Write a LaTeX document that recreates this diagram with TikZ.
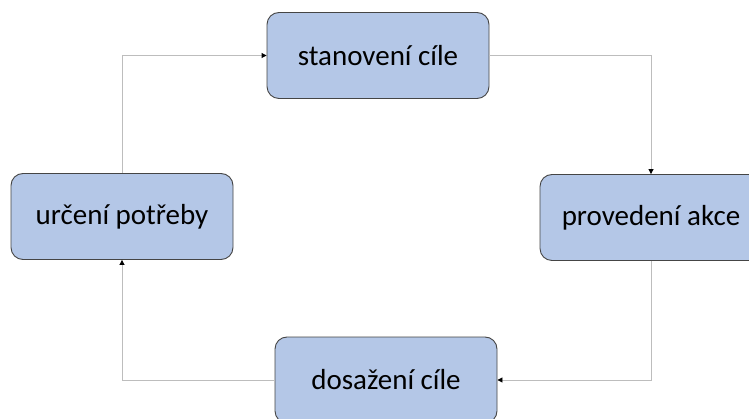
\documentclass[tikz,border=0pt]{standalone}
\usepackage{fontspec}
\setmainfont{Carlito}
\usetikzlibrary{arrows.meta}
\definecolor{boxfill}{HTML}{B4C7E7}
\definecolor{boxline}{HTML}{454545}
\definecolor{linkgray}{HTML}{BDBDBD}
\begin{document}
\begin{tikzpicture}[x=1pt,y=-1pt,
  stage/.style={draw=boxline, line width=0.9pt, fill=boxfill, rounded corners=12pt,
    minimum width=222pt, minimum height=86pt, inner sep=0pt,
    font=\fontsize{29}{34}\selectfont, text=black},
  link/.style={draw=linkgray, line width=0.9pt,
    -{Triangle[length=5pt,width=5pt,color=black]}}]
  \useasboundingbox (0,0) rectangle (749,419);
  \begin{scope}
    \clip (0,0) rectangle (749,419);
    \node[stage] (goal) at (378,55.5) {stanovení cíle};
    \node[stage] (need) at (122,216.5) {určení potřeby};
    \node[stage] (act)  at (651,217.5) {provedení akce};
    \node[stage] (done) at (386,380) {dosažení cíle};
    \draw[link] (need.north) |- (goal.west);
    \draw[link] (goal.east) -| (act.north);
    \draw[link] (act.south) |- (done.east);
    \draw[link] (done.west) -| (need.south);
  \end{scope}
\end{tikzpicture}
\end{document}
